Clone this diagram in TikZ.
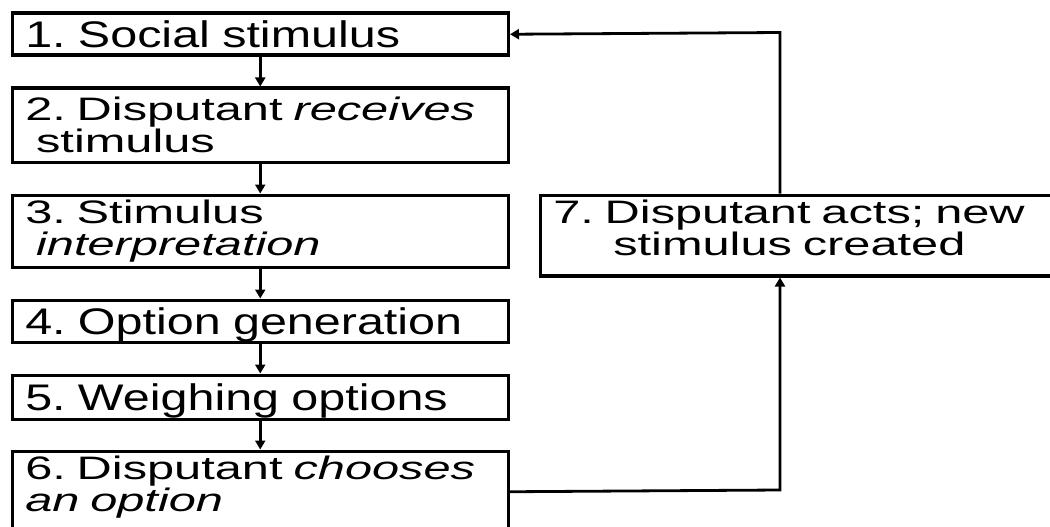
\documentclass[tikz,border=0pt]{standalone}
\usepackage{fontspec}
\usetikzlibrary{arrows.meta}
\newfontfamily\onefont[FakeStretch=1.31]{Liberation Sans}
\newfontfamily\twofont[FakeStretch=1.5]{Liberation Sans}
\frenchspacing

\begin{document}
\begin{tikzpicture}[x=1pt, y=-1pt,
    box/.style={draw, line width=3.5pt, anchor=north west, inner xsep=13pt, inner ysep=0pt, text width=470pt, align=left},
    onebox/.style={box, font=\onefont\fontsize{37}{37}\selectfont, text depth=0pt},
    twobox/.style={box, font=\twofont\fontsize{32.5}{32}\selectfont},
    flow/.style={line width=2.8pt, -{Triangle[length=9pt, width=10pt]}}]
    \useasboundingbox (0,0) rectangle (1050,527);
    \node[onebox, minimum height=42pt] (b1) at (10.5,11.5) {1. Social stimulus};
    \node[twobox, minimum height=74pt] (b2) at (10.5,86.5) {2. Disputant \textit{receives}\\\ stimulus};
    \node[twobox, minimum height=72pt] (b3) at (10.5,193.5) {3. Stimulus\\\ \textit{interpretation}};
    \node[onebox, minimum height=42pt] (b4) at (10.5,298.5) {4. Option generation};
    \node[onebox, minimum height=44pt] (b5) at (10.5,373.5) {5. Weighing options};
    \node[twobox, minimum height=81pt] (b6) at (10.5,449.5) {6. Disputant \textit{chooses}\\\textit{an option}\rule[-16pt]{0pt}{1pt}};
    \node[twobox, minimum height=80.5pt, text width=500pt] (b7) at (538.5,193.5) {7. Disputant acts; new\\\hspace*{60pt}stimulus created\rule[-16pt]{0pt}{1pt}};
    \coordinate (ret) at (780,32.5);
    \coordinate (out) at (780,490);
    \draw[flow] (b1.south) -- (b2.north);
    \draw[flow] (b2.south) -- (b3.north);
    \draw[flow] (b3.south) -- (b4.north);
    \draw[flow] (b4.south) -- (b5.north);
    \draw[flow] (b5.south) -- (b6.north);
    \draw[flow] (b6.east) -- (out) -- (b7.south -| out);
    \draw[flow] (b7.north -| ret) -- (ret) -- (b1.east);
\end{tikzpicture}
\end{document}
